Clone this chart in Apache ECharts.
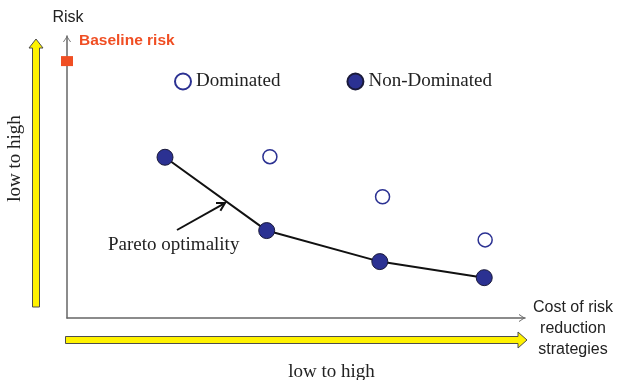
<!DOCTYPE html>
<html>
<head>
<meta charset="utf-8">
<script src="https://cdn.jsdelivr.net/npm/echarts@6/dist/echarts.min.js"></script>
<style>
html,body{margin:0;padding:0;background:#fff;}
#chart{width:619px;height:380px;}
</style>
</head>
<body>
<div id="chart"></div>
<script>
// Data (cost on x, 0..100; risk on y, 0..100)
const seriesNames = ['Dominated', 'Non-Dominated'];
const nonDominatedCost = [21.4, 43.6, 68.3, 91.1];
const nonDominatedRisk = [57.0, 31.0, 20.0, 14.3];
const dominatedCost = [44.3, 68.9, 91.3];
const dominatedRisk = [57.2, 43.0, 27.7];
const baselineCost = [0];
const baselineRisk = [91.1];

const SERIF = '"Liberation Serif", "Times New Roman", serif';
const SANS = '"Liberation Sans", Arial, sans-serif';
const NAVY = '#2b3192';

const zip = (xs, ys) => xs.map((x, i) => [x, ys[i]]);
const chevron = 'path://M0,6 L4,0 L8,6 L7.1,6 L4,1.3 L0.9,6 Z';

const chart = echarts.init(document.getElementById('chart'), null, {renderer: 'canvas'});
chart.setOption({
  animation: false,
  backgroundColor: '#fff',
  grid: {left: 67, top: 36, right: 94, bottom: 62},
  xAxis: {
    type: 'value', min: 0, max: 100,
    axisLine: {show: true, lineStyle: {color: '#666', width: 1.5},
      symbol: ['none', chevron], symbolSize: [8, 6], symbolOffset: [0, -3]},
    axisTick: {show: false}, axisLabel: {show: false}, splitLine: {show: false}
  },
  yAxis: {
    type: 'value', min: 0, max: 100,
    axisLine: {show: true, lineStyle: {color: '#666', width: 1.5},
      symbol: ['none', chevron], symbolSize: [8, 6], symbolOffset: [0, -3]},
    axisTick: {show: false}, axisLabel: {show: false}, splitLine: {show: false}
  },
  legend: {
    left: 174, top: 72, padding: 0, itemGap: 66,
    itemWidth: 16, itemHeight: 16,
    textStyle: {fontFamily: SERIF, fontSize: 19, color: '#222'},
    data: [{name: seriesNames[0], icon: 'circle'}, {name: seriesNames[1], icon: 'circle'}]
  },
  series: [
    {
      name: 'Pareto', type: 'line', data: zip(nonDominatedCost, nonDominatedRisk),
      symbol: 'none', lineStyle: {color: '#111', width: 2}, silent: true, z: 1
    },
    {
      name: seriesNames[0], type: 'scatter', data: zip(dominatedCost, dominatedRisk),
      symbol: 'circle', symbolSize: 14,
      itemStyle: {color: '#fff', borderColor: NAVY, borderWidth: 1.5, opacity: 1}, z: 3
    },
    {
      name: seriesNames[1], type: 'scatter', data: zip(nonDominatedCost, nonDominatedRisk),
      symbol: 'circle', symbolSize: 16,
      itemStyle: {color: NAVY, borderColor: '#1a1a3a', borderWidth: 1, opacity: 1}, z: 3
    },
    {
      name: 'Baseline risk', type: 'scatter', data: zip(baselineCost, baselineRisk),
      symbol: 'rect', symbolSize: [12, 10], clip: false,
      itemStyle: {color: '#f04e23', opacity: 1}, z: 4
    }
  ],
  graphic: [
    {type: 'polygon', shape: {points: [[32.5,307],[39.5,307],[39.5,48],[43,48],[36,39],[29,48],[32.5,48]]},
      style: {fill: '#fff200', stroke: '#4d4d4d', lineWidth: 1}},
    {type: 'polygon', shape: {points: [[65.5,336.5],[518,336.5],[518,332],[527,340],[518,348],[518,343.5],[65.5,343.5]]},
      style: {fill: '#fff200', stroke: '#4d4d4d', lineWidth: 1}},
    {type: 'line', shape: {x1: 177, y1: 230, x2: 224, y2: 203.6}, style: {stroke: '#111', lineWidth: 2}},
    {type: 'polyline', shape: {points: [[216,203],[225,203],[220.4,210.7]]}, style: {stroke: '#111', lineWidth: 2, fill: null}},
    {type: 'text', style: {text: 'Risk', x: 68, y: 18, font: '16px ' + SANS, fill: '#222', textAlign: 'center', textVerticalAlign: 'middle'}},
    {type: 'text', style: {text: 'Baseline risk', x: 79, y: 41, font: 'bold 15.5px ' + SANS, fill: '#f04e23', textAlign: 'left', textVerticalAlign: 'middle'}},
    {type: 'text', style: {text: 'Cost of risk\nreduction\nstrategies', x: 573, y: 329, font: '16px ' + SANS, lineHeight: 21, fill: '#222', textAlign: 'center', textVerticalAlign: 'middle'}},
    {type: 'text', style: {text: 'Pareto optimality', x: 108, y: 245, font: '19px ' + SERIF, fill: '#222', textAlign: 'left', textVerticalAlign: 'middle'}},
    {type: 'text', style: {text: 'low to high', x: 331.5, y: 372, font: '19px ' + SERIF, fill: '#222', textAlign: 'center', textVerticalAlign: 'middle'}},
    {type: 'text', x: 15.5, y: 158.5, rotation: Math.PI / 2,
      style: {text: 'low to high', x: 0, y: 0, font: '19px ' + SERIF, fill: '#222', textAlign: 'center', textVerticalAlign: 'middle'}}
  ]
});
</script>
</body>
</html>
